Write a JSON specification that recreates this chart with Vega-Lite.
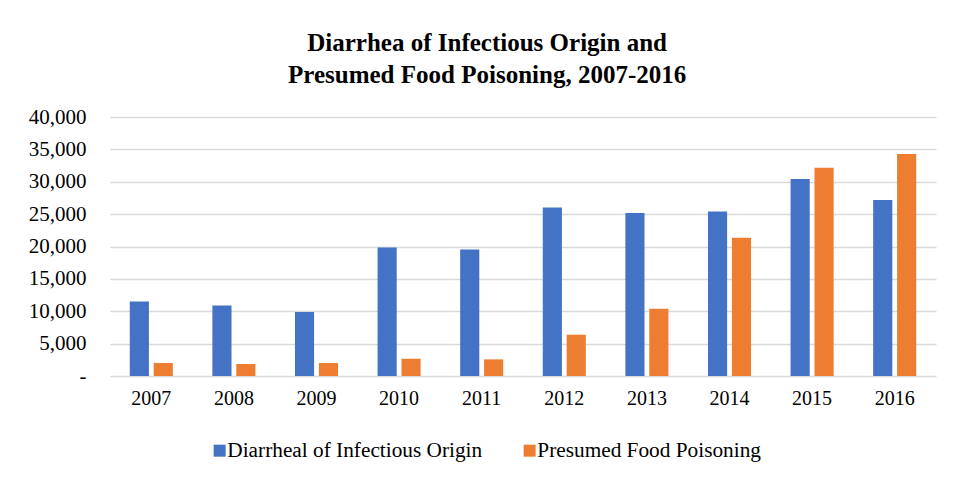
{
  "$schema": "https://vega.github.io/schema/vega-lite/v6.json",
  "autosize": {"type": "none"},
  "width": 826,
  "height": 259,
  "padding": {"left": 110, "top": 117, "right": 18, "bottom": 108},
  "background": "white",
  "title": {
    "text": ["Diarrhea of Infectious Origin and", "Presumed Food Poisoning, 2007-2016"],
    "font": "Liberation Serif",
    "fontSize": 25,
    "fontWeight": "bold",
    "color": "#000000",
    "lineHeight": 32,
    "anchor": "middle",
    "frame": "bounds",
    "offset": 18,
    "dx": 5
  },
  "data": {
    "values": [
      {"year": "2007", "series": "Diarrheal of Infectious Origin", "value": 11500},
      {"year": "2008", "series": "Diarrheal of Infectious Origin", "value": 10900},
      {"year": "2009", "series": "Diarrheal of Infectious Origin", "value": 9880},
      {"year": "2010", "series": "Diarrheal of Infectious Origin", "value": 19860},
      {"year": "2011", "series": "Diarrheal of Infectious Origin", "value": 19550},
      {"year": "2012", "series": "Diarrheal of Infectious Origin", "value": 26030},
      {"year": "2013", "series": "Diarrheal of Infectious Origin", "value": 25170},
      {"year": "2014", "series": "Diarrheal of Infectious Origin", "value": 25420},
      {"year": "2015", "series": "Diarrheal of Infectious Origin", "value": 30420},
      {"year": "2016", "series": "Diarrheal of Infectious Origin", "value": 27170},
      {"year": "2007", "series": "Presumed Food Poisoning", "value": 2000},
      {"year": "2008", "series": "Presumed Food Poisoning", "value": 1850},
      {"year": "2009", "series": "Presumed Food Poisoning", "value": 2000},
      {"year": "2010", "series": "Presumed Food Poisoning", "value": 2670},
      {"year": "2011", "series": "Presumed Food Poisoning", "value": 2570},
      {"year": "2012", "series": "Presumed Food Poisoning", "value": 6380},
      {"year": "2013", "series": "Presumed Food Poisoning", "value": 10390},
      {"year": "2014", "series": "Presumed Food Poisoning", "value": 21350},
      {"year": "2015", "series": "Presumed Food Poisoning", "value": 32160},
      {"year": "2016", "series": "Presumed Food Poisoning", "value": 34280}
    ]
  },
  "mark": {"type": "bar"},
  "encoding": {
    "x": {
      "field": "year",
      "type": "nominal",
      "title": null,
      "scale": {"paddingInner": 0.45, "paddingOuter": 0.225},
      "axis": {
        "labelAngle": 0,
        "labelFont": "Liberation Serif",
        "labelFontSize": 20,
        "labelColor": "#000000",
        "labelPadding": 12,
        "ticks": false,
        "domain": false,
        "grid": false
      }
    },
    "xOffset": {
      "field": "series",
      "type": "nominal",
      "scale": {"paddingInner": 0.2, "paddingOuter": 0.05}
    },
    "y": {
      "field": "value",
      "type": "quantitative",
      "title": null,
      "scale": {"domain": [0, 40000], "nice": false},
      "axis": {
        "values": [0, 5000, 10000, 15000, 20000, 25000, 30000, 35000, 40000],
        "labelExpr": "datum.value == 0 ? '-\u00a0\u00a0\u00a0' : format(datum.value, ',')",
        "labelFont": "Liberation Serif",
        "labelFontSize": 21,
        "labelColor": "#000000",
        "labelPadding": 24,
        "ticks": false,
        "domain": false,
        "grid": true,
        "gridColor": "#d9d9d9",
        "gridWidth": 1.5
      }
    },
    "color": {
      "field": "series",
      "type": "nominal",
      "scale": {
        "domain": ["Diarrheal of Infectious Origin", "Presumed Food Poisoning"],
        "range": ["#4472C4", "#ED7D31"]
      },
      "legend": {
        "title": null,
        "orient": "none",
        "direction": "horizontal",
        "legendX": 99,
        "legendY": 323,
        "symbolType": "square",
        "symbolSize": 144,
        "symbolStrokeWidth": 0,
        "labelFont": "Liberation Serif",
        "labelFontSize": 21.3,
        "labelColor": "#000000",
        "labelOffset": -3,
        "columnPadding": 36,
        "labelLimit": 400
      }
    }
  },
  "config": {
    "view": {"stroke": null}
  }
}
